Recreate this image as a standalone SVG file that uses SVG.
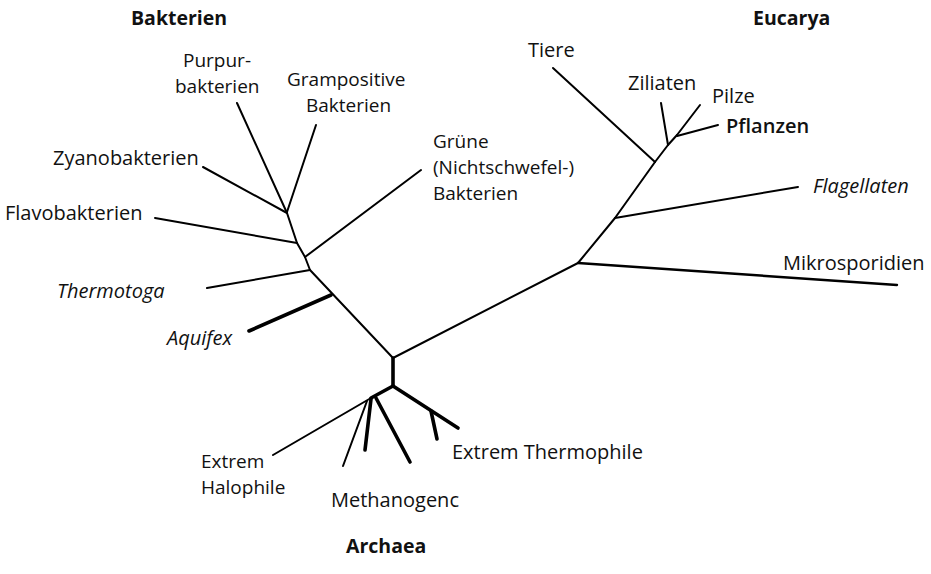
<svg xmlns="http://www.w3.org/2000/svg" width="931" height="574" viewBox="0 0 931 574">
<style>
text{font-family:"Open Sans","Liberation Sans",sans-serif;font-size:20px;fill:#111}
.m{font-size:19px}
.h{font-weight:700;font-size:19.5px}
.i{font-style:italic}
.sb{font-weight:600}
.e{stroke:#000;stroke-width:2;fill:none;stroke-linecap:round;stroke-linejoin:round}
.t{stroke-width:3.6}
</style>
<rect width="931" height="574" fill="#fff"/>
<g id="connectors">
<polyline class="e" points="287,213 297,243 305,257 310,270 393,358"/>
<line class="e" x1="237" y1="103" x2="287" y2="213"/>
<line class="e" x1="316" y1="125" x2="287" y2="212"/>
<line class="e" x1="203" y1="167" x2="287" y2="213"/>
<line class="e" x1="155" y1="218" x2="297" y2="243"/>
<line class="e" x1="421" y1="170" x2="305" y2="257"/>
<line class="e" x1="207" y1="288" x2="310" y2="270"/>
<line class="e t" x1="249" y1="331" x2="331" y2="295"/>
<polyline class="e" points="393,358 578,263 615,218 655,162 668,145 677,135"/>
<line class="e" x1="578" y1="263" x2="897" y2="285" style="stroke-width:2.4"/>
<line class="e" x1="615" y1="218" x2="798" y2="187"/>
<line class="e" x1="553" y1="68" x2="655" y2="162"/>
<line class="e" x1="661" y1="103" x2="668" y2="145"/>
<line class="e" x1="700" y1="105" x2="677" y2="135"/>
<line class="e" x1="718" y1="125" x2="677" y2="136"/>
<line class="e t" x1="393" y1="358" x2="393" y2="386"/>
<line class="e t" x1="393" y1="386" x2="371" y2="398"/>
<line class="e" x1="371" y1="398" x2="273" y2="455"/>
<line class="e" x1="367" y1="401" x2="343" y2="466"/>
<line class="e t" x1="371" y1="399" x2="365" y2="450"/>
<line class="e t" x1="376" y1="398" x2="410" y2="462"/>
<line class="e t" x1="393" y1="386" x2="458" y2="428"/>
<line class="e t" x1="431" y1="411" x2="437" y2="439"/>
</g>
<g id="bakterien"><text class="h" x="131" y="25">Bakterien</text></g>
<g id="eucarya"><text class="h" x="753" y="25">Eucarya</text></g>
<g id="archaea"><text class="h" x="346" y="553">Archaea</text></g>
<g id="purpurbakterien" class="m"><text class="m" x="183" y="67">Purpur-</text><text class="m" x="175" y="93">bakterien</text></g>
<g id="grampositive"><text class="m" x="287" y="86">Grampositive</text><text class="m" x="306" y="112">Bakterien</text></g>
<g id="gruene"><text class="m" x="433" y="148">Grüne</text><text class="m" x="433" y="174">(Nichtschwefel-)</text><text class="m" x="433" y="200">Bakterien</text></g>
<g id="zyanobakterien"><text x="53" y="165">Zyanobakterien</text></g>
<g id="flavobakterien"><text x="5" y="220">Flavobakterien</text></g>
<g id="thermotoga"><text class="i" x="57" y="298">Thermotoga</text></g>
<g id="aquifex"><text class="i" x="167" y="345">Aquifex</text></g>
<g id="tiere"><text x="528" y="57">Tiere</text></g>
<g id="ziliaten"><text x="628" y="90">Ziliaten</text></g>
<g id="pilze"><text x="712" y="103">Pilze</text></g>
<g id="pflanzen"><text class="sb" x="726" y="133">Pflanzen</text></g>
<g id="flagellaten"><text class="i" x="813" y="193">Flagellaten</text></g>
<g id="mikrosporidien"><text x="783" y="270">Mikrosporidien</text></g>
<g id="thermophile"><text x="452" y="459">Extrem Thermophile</text></g>
<g id="halophile"><text class="m" x="201" y="468">Extrem</text><text class="m" x="201" y="494">Halophile</text></g>
<g id="methanogene"><text x="331" y="507">Methanogenc</text></g>
</svg>
